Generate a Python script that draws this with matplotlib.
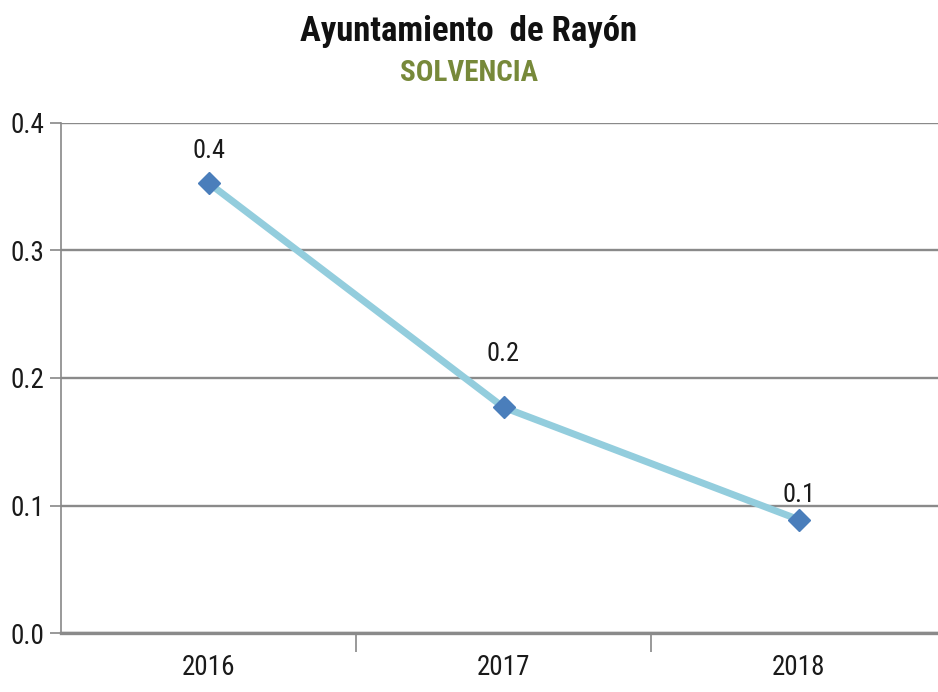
import matplotlib
matplotlib.use("Agg")
import matplotlib.pyplot as plt
from matplotlib import font_manager
from matplotlib.font_manager import FontProperties

years = ["2016", "2017", "2018"]
solvencia = [0.353, 0.177, 0.089]
value_labels = ["0.4", "0.2", "0.1"]
y_ticks = [0.0, 0.1, 0.2, 0.3, 0.4]
title = "Ayuntamiento  de Rayón"
subtitle = "SOLVENCIA"


def find_condensed(bold=False):
    best = None
    for f in font_manager.fontManager.ttflist:
        nm = f.name.lower()
        fn = f.fname.lower()
        cond = ("condensed" in nm or "narrow" in nm or "condensed" in fn
                or "narrow" in fn or f.stretch in ("condensed",))
        if not cond:
            continue
        if "extra" in fn or "ultra" in fn or "semi" in fn or "italic" in fn or "oblique" in fn:
            continue
        w = f.weight
        isbold = (w == "bold" or (isinstance(w, int) and w >= 700))
        if isbold != bold:
            continue
        score = 0
        if "liberation" in fn:
            score = 3
        elif "roboto" in fn:
            score = 2
        elif "dejavu" in fn:
            score = 1
        if best is None or score > best[0]:
            best = (score, f.fname)
    return best[1] if best else None


reg = find_condensed(False)
bld = find_condensed(True)


def fp(size, bold=False):
    path = bld if bold else reg
    if path:
        return FontProperties(fname=path, size=size)
    return FontProperties(family="DejaVu Sans", size=size,
                          weight="bold" if bold else "normal", stretch="condensed")


fig = plt.figure(figsize=(9.38, 6.92), dpi=100)
ax = fig.add_axes([61/938, 59/692, 885/938, 510/692])

x = list(range(len(years)))
ax.plot(x, solvencia, color="#93CDDD", lw=5, zorder=3, solid_capstyle="round")
ax.plot(x, solvencia, ls="none", marker="D", ms=11, color="#4A7EBB",
        markeredgecolor="#4A7EBB", zorder=4)

label_offsets = [(0, 14), (0, 30), (0, 9)]
for xi, v, t, off in zip(x, solvencia, value_labels, label_offsets):
    ax.annotate(t, (xi, v), xytext=off, textcoords="offset points",
                ha="center", va="bottom", fontproperties=fp(19), color="#1a1a1a")

ax.set_xlim(-0.5, 2.5)
ax.set_ylim(0, 0.4)
ax.set_yticks(y_ticks)
ax.set_yticklabels([f"{t:.1f}" for t in y_ticks])
ax.set_xticks(x)
ax.set_xticklabels(years)
ax.set_xticks([0.5, 1.5], minor=True)
ax.tick_params(axis="x", which="major", length=0, pad=15)
ax.tick_params(axis="x", which="minor", length=14, color="#888888", width=1.2)
ax.tick_params(axis="y", length=8, color="#888888", width=1.2, pad=4)
for lab in ax.get_xticklabels() + ax.get_yticklabels():
    lab.set_fontproperties(fp(19.5))
    lab.set_color("#1a1a1a")
ax.yaxis.grid(True, color="#8a8a8a", lw=1.7)
ax.set_axisbelow(True)
for s in ["top", "right"]:
    ax.spines[s].set_visible(False)
ax.spines["bottom"].set_color("#8a8a8a")
ax.spines["bottom"].set_linewidth(2.4)
ax.spines["left"].set_color("#888888")
ax.spines["left"].set_linewidth(1.2)

fig.text(469/938, 1 - 32/692, title, ha="center", va="center",
         fontproperties=fp(25, True), color="#111111")
fig.text(469/938, 1 - 73/692, subtitle, ha="center", va="center",
         fontproperties=fp(21, True), color="#77893A")

fig.savefig("out.png", dpi=100)
